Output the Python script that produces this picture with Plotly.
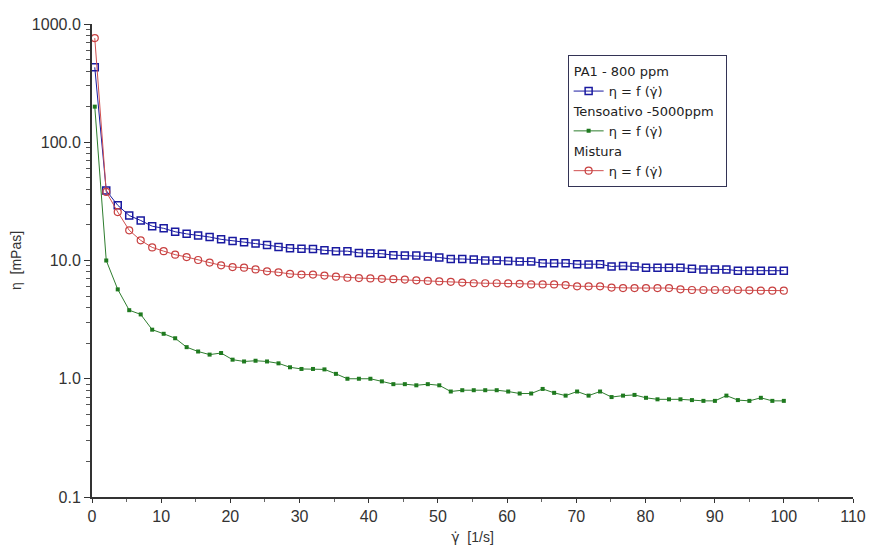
import plotly.graph_objects as go

# shear rate [1/s]
shear_rate = [0.40, 2.06, 3.72, 5.38, 7.04, 8.70, 10.36, 12.02, 13.68, 15.34,
              17.00, 18.66, 20.32, 21.98, 23.64, 25.30, 26.96, 28.62, 30.28, 31.94,
              33.60, 35.26, 36.92, 38.58, 40.24, 41.90, 43.56, 45.22, 46.88, 48.54,
              50.20, 51.86, 53.52, 55.18, 56.84, 58.50, 60.16, 61.82, 63.48, 65.14,
              66.80, 68.46, 70.12, 71.78, 73.44, 75.10, 76.76, 78.42, 80.08, 81.74,
              83.40, 85.06, 86.72, 88.38, 90.04, 91.70, 93.36, 95.02, 96.68, 98.34,
              100.00]

# viscosity [mPas]
eta_pa1 = [430, 39, 29.3, 24, 21.8, 19.5, 18.7, 17.5, 16.8, 16.3,
           15.8, 15.1, 14.6, 14.3, 13.9, 13.5, 13.0, 12.7, 12.6, 12.5,
           12.2, 12.0, 12.0, 11.6, 11.5, 11.4, 11.1, 11.0, 11.0, 10.8,
           10.6, 10.3, 10.3, 10.2, 10.0, 10.0, 9.9, 9.8, 9.8, 9.5,
           9.5, 9.5, 9.3, 9.25, 9.3, 8.9, 9.0, 8.9, 8.7, 8.7,
           8.7, 8.7, 8.5, 8.4, 8.4, 8.4, 8.2, 8.2, 8.2, 8.2,
           8.2]

eta_tenso = [200, 10.0, 5.7, 3.8, 3.5, 2.6, 2.4, 2.2, 1.85, 1.7,
             1.6, 1.65, 1.45, 1.4, 1.42, 1.4, 1.35, 1.25, 1.21, 1.21,
             1.2, 1.1, 1.0, 1.0, 1.0, 0.95, 0.90, 0.90, 0.88, 0.90,
             0.88, 0.78, 0.80, 0.80, 0.80, 0.80, 0.78, 0.75, 0.75, 0.82,
             0.76, 0.72, 0.78, 0.72, 0.78, 0.70, 0.72, 0.73, 0.69, 0.67,
             0.67, 0.67, 0.66, 0.65, 0.65, 0.72, 0.66, 0.65, 0.69, 0.65,
             0.65]

eta_mistura = [760, 38, 25.7, 18, 14.8, 12.9, 12.0, 11.2, 10.7, 10.1,
               9.6, 9.1, 8.8, 8.7, 8.4, 8.1, 7.95, 7.7, 7.6, 7.6,
               7.45, 7.3, 7.15, 7.1, 7.05, 7.0, 6.95, 6.9, 6.8, 6.72,
               6.65, 6.6, 6.5, 6.42, 6.42, 6.42, 6.4, 6.35, 6.27, 6.27,
               6.27, 6.2, 6.05, 6.05, 6.05, 5.9, 5.85, 5.85, 5.85, 5.85,
               5.85, 5.7, 5.63, 5.63, 5.63, 5.63, 5.63, 5.6, 5.56, 5.56,
               5.56]

series_names = ["PA1 - 800 ppm", "Tensoativo -5000ppm", "Mistura"]
gdot = "<span style='font-family:DejaVu Sans'>\u03b3\u0307</span>"
entry_label = "\u03b7 = f (" + gdot + ")"

FONT = "Liberation Sans, Arial, sans-serif"
NARROW = "Liberation Sans Narrow, Arial Narrow, Liberation Sans, sans-serif"

# minor ticks of the log axis (2..9 in each decade)
minor_y = [m * 10 ** e for e in range(-1, 3) for m in range(2, 10)]

fig = go.Figure()

fig.add_trace(go.Scatter(
    x=shear_rate, y=eta_pa1, mode="lines+markers", name=entry_label,
    legendgroup="pa1", legendgrouptitle_text=series_names[0],
    line=dict(color="#1a1aa0", width=1),
    marker=dict(symbol="square-open", size=7, color="#1a1aa0", line=dict(width=1.5)),
))
fig.add_trace(go.Scatter(
    x=shear_rate, y=eta_tenso, mode="lines+markers", name=entry_label,
    legendgroup="tenso", legendgrouptitle_text=series_names[1],
    line=dict(color="#2e7d2e", width=1),
    marker=dict(symbol="square", size=4, color="#1f7a1f"),
))
fig.add_trace(go.Scatter(
    x=shear_rate, y=eta_mistura, mode="lines+markers", name=entry_label,
    legendgroup="mist", legendgrouptitle_text=series_names[2],
    line=dict(color="#d05050", width=1),
    marker=dict(symbol="circle-open", size=7, color="#c84040", line=dict(width=1.2)),
))

# the page body adds 8 px around the figure, so size and margins account for it
fig.update_layout(
    width=866, height=543,
    margin=dict(l=84, r=21, t=16, b=54),
    paper_bgcolor="white", plot_bgcolor="white",
    font=dict(family=FONT, size=14, color="#333333"),
    legend=dict(
        x=0.625, y=0.934, xanchor="left", yanchor="top",
        bordercolor="#333355", borderwidth=1, bgcolor="white",
        font=dict(size=13, color="#222222", family="DejaVu Sans, sans-serif"),
        grouptitlefont=dict(size=13, color="#222222", family="DejaVu Sans, sans-serif"),
        tracegroupgap=0, itemwidth=30,
    ),
    xaxis=dict(
        range=[0, 110], tickmode="linear", tick0=0, dtick=10,
        showline=True, linecolor="#333333", linewidth=2,
        ticks="outside", ticklen=4, tickcolor="#333333",
        showgrid=False, zeroline=False, automargin=False,
        minor=dict(ticks="outside", ticklen=3, dtick=5, tickcolor="#666666"),
        title=dict(text=gdot + "  [1/s]", font=dict(size=14, family=NARROW), standoff=8),
        tickfont=dict(size=16, family=NARROW),
    ),
    yaxis=dict(
        type="log", range=[-1, 3], tickmode="linear", tick0=0, dtick=1,
        tickformat=".1f",
        showline=True, linecolor="#333333", linewidth=2,
        ticks="outside", ticklen=6, tickcolor="#333333",
        showgrid=False, zeroline=False, automargin=False,
        minor=dict(ticks="outside", ticklen=4, tickcolor="#555555", tickvals=minor_y),
        title=dict(text="\u03b7  [mPas]", font=dict(size=14), standoff=18),
        tickfont=dict(size=16),
    ),
)

fig.write_html("out.html")
